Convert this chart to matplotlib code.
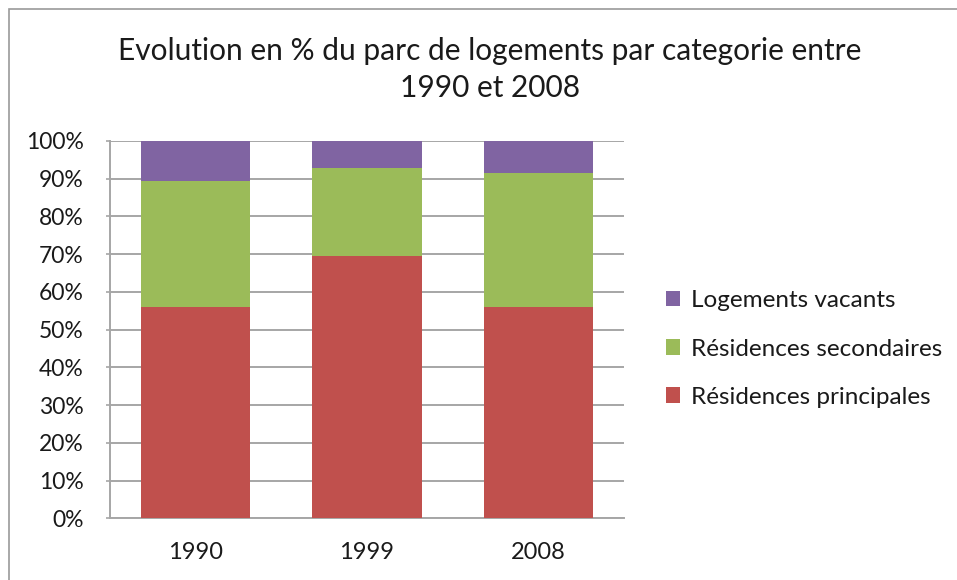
import matplotlib
matplotlib.use("Agg")
import matplotlib.pyplot as plt
import matplotlib.patches as mpatches
from matplotlib.ticker import FuncFormatter, MultipleLocator

years = ["1990", "1999", "2008"]
principales = [55.9, 69.6, 55.9]
secondaires = [33.4, 23.1, 35.5]
vacants = [10.7, 7.3, 8.6]
series_names = ["Résidences principales", "Résidences secondaires", "Logements vacants"]
colors = ["#C0504D", "#9BBB59", "#8064A2"]
title = "Evolution en % du parc de logements par categorie entre\n1990 et 2008"

plt.rcParams['font.family'] = ['Lato', 'DejaVu Sans']

fig = plt.figure(figsize=(9.57, 5.8), dpi=100)
# chart border (top-left visible)
fig.add_artist(mpatches.Rectangle((9/957, -0.1), 1.2, 1 - 9/580 + 0.1, transform=fig.transFigure,
                                  fill=False, edgecolor="#9a9a9a", linewidth=1.2))

ax = fig.add_axes([110/957, 1 - 518.3/580, 514/957, 377.5/580])
x = list(range(len(years)))
w = 0.64
bottom = [0.0] * len(years)
handles = []
for vals, name, c in zip([principales, secondaires, vacants], series_names, colors):
    b = ax.bar(x, vals, w, bottom=bottom, color=c, label=name, zorder=3)
    handles.append(b)
    bottom = [bb + v for bb, v in zip(bottom, vals)]

ax.set_xlim(-0.5, 2.5)
ax.set_ylim(0, 100)
ax.yaxis.set_major_locator(MultipleLocator(10))
ax.yaxis.set_major_formatter(FuncFormatter(lambda v, p: f"{int(round(v))}%"))
ax.set_xticks(x)
ax.set_xticklabels(years)
ax.grid(axis="y", color="#a6a6a6", linewidth=1.4, zorder=0)
for s in ["top", "right"]:
    ax.spines[s].set_visible(False)
for s in ["left", "bottom"]:
    ax.spines[s].set_color("#a6a6a6")
    ax.spines[s].set_linewidth(1.4)
ax.tick_params(axis="y", length=3, color="#a6a6a6", width=1.2, labelsize=16.5, pad=16, labelcolor="#1a1a1a")
ax.tick_params(axis="x", length=0, labelsize=17, pad=17, labelcolor="#1a1a1a")

fig.text(490/957, 1 - 69.5/580, title, ha="center", va="center", fontsize=21.5,
         color="#1a1a1a", linespacing=1.42)

leg = fig.legend(handles[::-1], series_names[::-1], loc="center left",
                 bbox_to_anchor=(644/957, 1 - 349/580), frameon=False,
                 fontsize=17.5, handlelength=0.6, handleheight=0.6,
                 handletextpad=0.45, labelspacing=1.12, labelcolor="#1a1a1a")

fig.savefig("out.png", dpi=100)
